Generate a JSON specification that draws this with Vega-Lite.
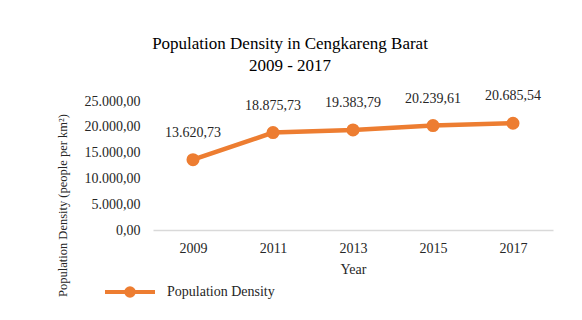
{
  "$schema": "https://vega.github.io/schema/vega-lite/v6.json",
  "width": 400,
  "height": 129,
  "autosize": {"type": "none"},
  "padding": {"left": 153, "top": 101, "right": 29, "bottom": 90},
  "background": "white",
  "config": {
    "locale": {"number": {"decimal": ",", "thousands": ".", "grouping": [3], "currency": ["", ""]}},
    "font": "Liberation Serif",
    "view": {"stroke": null},
    "axis": {"labelFont": "Liberation Serif", "titleFont": "Liberation Serif"},
    "legend": {"labelFont": "Liberation Serif"},
    "text": {"font": "Liberation Serif"}
  },
  "title": {
    "text": ["Population Density in Cengkareng Barat", "2009 - 2017"],
    "font": "Liberation Serif",
    "fontSize": 17,
    "fontWeight": "normal",
    "color": "#000000",
    "lineHeight": 22,
    "dx": -63,
    "offset": 14
  },
  "data": {
    "values": [
      {"year": "2009", "density": 13620.73, "series": "Population Density"},
      {"year": "2011", "density": 18875.73, "series": "Population Density"},
      {"year": "2013", "density": 19383.79, "series": "Population Density"},
      {"year": "2015", "density": 20239.61, "series": "Population Density"},
      {"year": "2017", "density": 20685.54, "series": "Population Density"}
    ]
  },
  "encoding": {
    "x": {
      "field": "year",
      "type": "ordinal",
      "title": "Year",
      "axis": {
        "labelAngle": 0,
        "labelFontSize": 14,
        "labelColor": "#262626",
        "labelPadding": 11,
        "ticks": false,
        "domainColor": "#d9d9d9",
        "domainWidth": 1.5,
        "grid": false,
        "titleFontSize": 14,
        "titleFontWeight": "normal",
        "titleColor": "#262626",
        "titlePadding": 7
      }
    },
    "y": {
      "field": "density",
      "type": "quantitative",
      "title": "Population Density (people per km²)",
      "scale": {"domain": [0, 25000], "nice": false},
      "axis": {
        "values": [0, 5000, 10000, 15000, 20000, 25000],
        "format": ",.2f",
        "labelFontSize": 14,
        "labelColor": "#262626",
        "labelPadding": 13,
        "ticks": false,
        "domain": false,
        "grid": false,
        "titleFontSize": 12.5,
        "titleFontWeight": "normal",
        "titleColor": "#262626",
        "titleX": -91,
        "titleY": 104,
        "titleAlign": "center",
        "titleBaseline": "middle",
        "titleAngle": -90
      }
    }
  },
  "layer": [
    {
      "mark": {"type": "line", "strokeWidth": 4.5, "point": {"size": 170, "filled": true, "opacity": 1}},
      "encoding": {
        "color": {
          "field": "series",
          "type": "nominal",
          "scale": {"range": ["#ED7D31"]},
          "legend": {
            "title": null,
            "orient": "none",
            "legendX": -50,
            "legendY": 164,
            "symbolType": "M-1,0H1M-0.15,0A0.15,0.15 0 1,1 0.15,0A0.15,0.15 0 1,1 -0.15,0Z",
            "symbolSize": 2500,
            "symbolStrokeWidth": 4,
            "symbolFillColor": "#ED7D31",
            "symbolStrokeColor": "#ED7D31",
            "symbolOpacity": 1,
            "labelFontSize": 14,
            "labelColor": "#262626",
            "labelOffset": 10
          }
        }
      }
    },
    {
      "mark": {"type": "text", "dy": -27, "fontSize": 14, "color": "#262626", "font": "Liberation Serif"},
      "encoding": {
        "text": {"field": "density", "type": "quantitative", "format": ",.2f"}
      }
    }
  ]
}
